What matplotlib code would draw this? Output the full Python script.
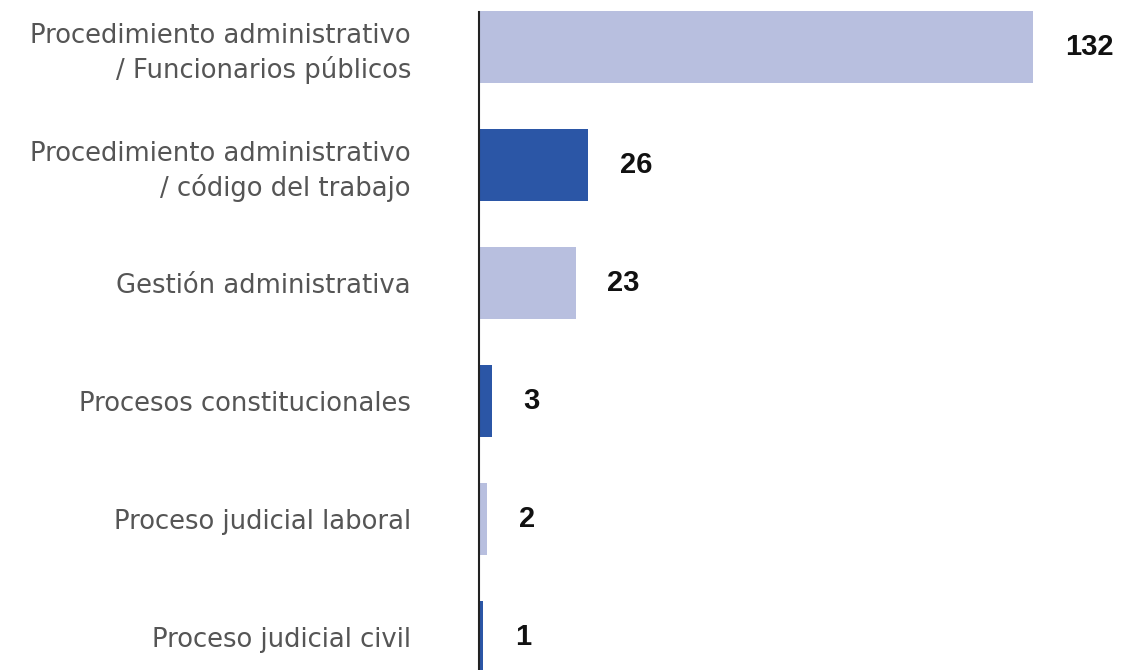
import numpy as np
import matplotlib
matplotlib.use('Agg')
from matplotlib import pyplot as plt

categorias = ['Procedimiento administrativo\n/ Funcionarios públicos',
              'Procedimiento administrativo\n/ código del trabajo',
              'Gestión administrativa',
              'Procesos constitucionales',
              'Proceso judicial laboral',
              'Proceso judicial civil']
valores = [132, 26, 23, 3, 2, 1]

color_claro = '#b8bfdf'
color_oscuro = '#2b56a6'
colores = [color_claro if i % 2 == 0 else color_oscuro for i in range(len(valores))]

fig = plt.figure(figsize=(11.22, 6.7), dpi=100)
ax = fig.add_axes([479 / 1122, 0, 1 - 479 / 1122, 1])

pos = np.arange(len(valores))
ax.barh(pos, valores, height=0.61, color=colores)

# escala: 132 llega a x=1033 px
ax.set_xlim(0, 643 / 4.197)
ax.set_ylim(5.28, -0.398)

ax.set_yticks(pos)
ax.set_yticklabels(categorias, fontsize=18.6, color='#555555', family='DejaVu Sans',
                   linespacing=1.32)
ax.tick_params(axis='y', length=0, pad=49)
ax.set_xticks([])

for s in ['top', 'right', 'bottom']:
    ax.spines[s].set_visible(False)
ax.spines['left'].set_color('#222222')
ax.spines['left'].set_linewidth(1.5)
ax.spines['left'].set_bounds(-0.296, 5.28)

for p, v in zip(pos, valores):
    ax.annotate(str(v), (v, p), xytext=(23, 0), textcoords='offset points',
                ha='left', va='center', fontsize=21, fontweight='bold',
                family='Liberation Sans', color='#111111')

fig.savefig('out.png', dpi=100)
